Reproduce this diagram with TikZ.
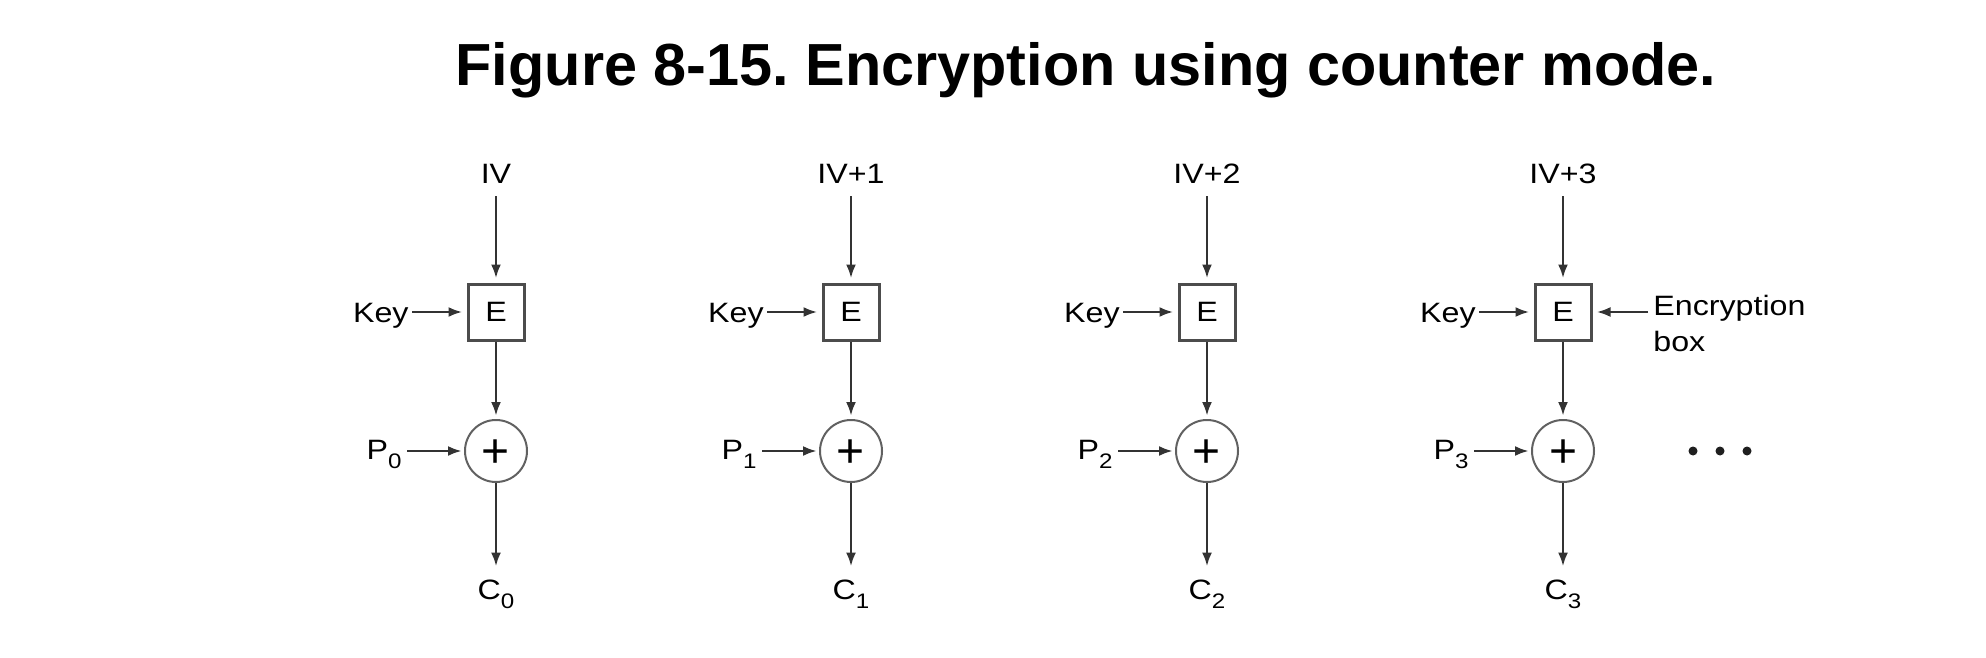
\documentclass[tikz,border=0pt]{standalone}
\usepackage{fontspec}
\setmainfont{Liberation Sans}
\newfontfamily\lblfont{Liberation Sans}[FakeStretch=1.15]
\usetikzlibrary{arrows.meta}
\frenchspacing
\newcommand\subx[1]{\raisebox{-4.5pt}{\fontsize{10.5}{10.5}\selectfont #1}}
\tikzset{
  lbl/.style={font=\lblfont\fontsize{14}{18}\selectfont, inner sep=0pt, text height=10pt, text depth=0pt, text=black},
  enclbl/.style={font=\lblfont\fontsize{14}{18}\selectfont, inner sep=0pt, align=left, text=black},
  ebox/.style={draw=black!70, line width=1.5pt, minimum size=28pt, inner sep=0pt, font=\lblfont\fontsize{14}{18}\selectfont},
  xor/.style={circle, draw=black!62, line width=1pt, minimum size=31pt, inner sep=0pt, font=\fontsize{24}{24}\selectfont, text height=16.9pt, text depth=0pt},
  arr/.style={-{Latex[length=7pt,width=5pt]}, line width=1.4pt, draw=black!80},
  dotmark/.style={circle, fill=black!88, minimum size=4.5pt, inner sep=0pt},
  ttl/.style={font=\bfseries\fontsize{29.7}{30}\selectfont, inner sep=0pt, text height=21.3pt, text depth=0pt}
}
\begin{document}
\begin{tikzpicture}[x=0.5pt,y=-0.5pt]
\useasboundingbox (0,0) rectangle (1986,658);
\fill[white] (0,0) rectangle (1986,658);
\node[ttl] (title) at (1086,64) {Figure 8-15. Encryption using counter mode.};
\foreach \i/\cx/\iv in {0/496/IV,1/851/IV+1,2/1207/IV+2,3/1563/IV+3} {
  \node[lbl] (iv\i) at (\cx,174) {\iv};
  \node[ebox] (E\i) at (\cx,312) {E};
  \node[lbl, anchor=east] (key\i) at (\cx-87,312) {Key};
  \node[xor] (x\i) at (\cx,451) {+};
  \node[lbl, anchor=east] (p\i) at (\cx-94,449) {P\subx{\i}};
  \node[lbl] (c\i) at (\cx,589) {C\subx{\i}};
  \draw[arr, shorten <=6pt, shorten >=2pt] (iv\i) -- (E\i);
  \draw[arr, shorten >=1.5pt] (E\i) -- (x\i);
  \draw[arr, shorten <=1.5pt, shorten >=2pt] (key\i) -- (E\i);
  \draw[arr, shorten <=2.5pt, shorten >=1pt] (p\i.east |- x\i) -- (x\i);
  \draw[arr, shorten >=6pt] (x\i) -- (c\i);
}
\node[enclbl, anchor=north west] (enc) at (1653,295) {Encryption\\box};
\draw[arr, shorten <=2.5pt, shorten >=2pt] (E3.east -| enc.west) -- (E3.east);
\node[dotmark] (d1) at (1693,451) {};
\node[dotmark] (d2) at (1720,451) {};
\node[dotmark] (d3) at (1747,451) {};
\end{tikzpicture}
\end{document}
